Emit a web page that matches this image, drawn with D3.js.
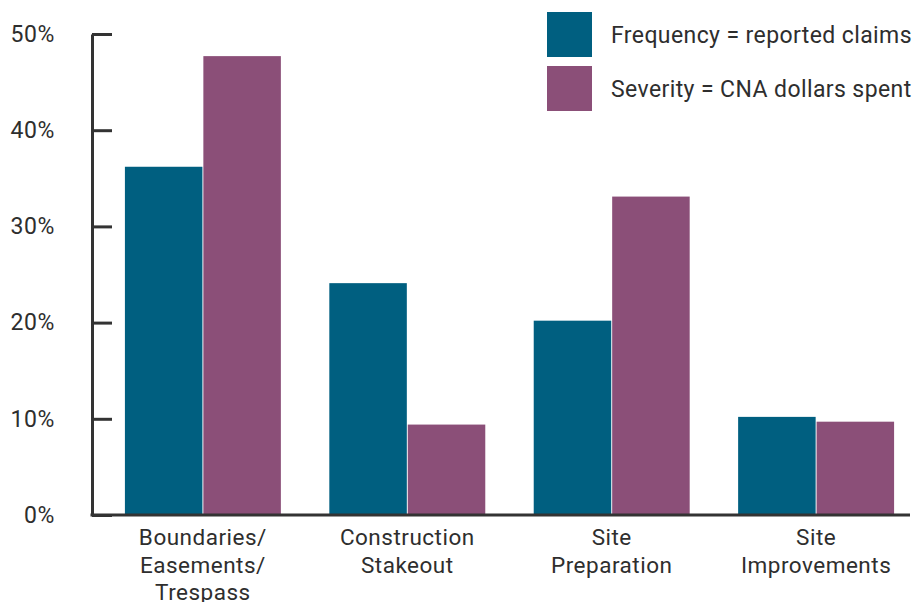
<!DOCTYPE html>
<html>
<head>
<meta charset="utf-8">
<script src="https://cdn.jsdelivr.net/npm/d3@7"></script>
<style>
  body { margin: 0; background: #fff; }
  svg { display: block; font-family: Roboto, "DejaVu Sans", sans-serif; }
  text { fill: #2e2e2e; }
</style>
</head>
<body>
<svg></svg>
<script>
let width = 915;
let height = 602;

// data
let categories = ['Boundaries', 'Construction', 'SitePrep', 'SiteImp'];
let categoryLines = [
  ['Boundaries/', 'Easements/', 'Trespass'],
  ['Construction', 'Stakeout'],
  ['Site', 'Preparation'],
  ['Site', 'Improvements']
];
let frequency = [0.362, 0.241, 0.202, 0.102];
let severity = [0.477, 0.094, 0.331, 0.097];
let seriesNames = ['Frequency = reported claims', 'Severity = CNA dollars spent'];
let yTicks = [0, 0.1, 0.2, 0.3, 0.4, 0.5];

let colors = ['#005f80', '#8b4f78'];

let svg = d3.select('svg')
            .attr('width', width)
            .attr('height', height);

let x0 = 92, yBase = 515, yTop = 34;

let x = d3.scaleBand()
          .domain(categories)
          .range([x0, 927])
          .paddingInner(0.237)
          .paddingOuter(0.161);

let xSub = d3.scaleBand()
             .domain([0, 1])
             .range([0, x.bandwidth()])
             .paddingInner(0.012);

let y = d3.scaleLinear()
          .domain([0, 0.5])
          .range([yBase, yTop]);

// bars
let rows = categories.map((c, i) => ({cat: c, vals: [frequency[i], severity[i]]}));

let groups = svg.append('g')
  .selectAll('g')
  .data(rows)
  .enter()
  .append('g')
  .attr('transform', d => 'translate(' + x(d.cat) + ',0)');

groups.selectAll('rect')
  .data(d => d.vals.map((v, k) => ({k: k, v: v})))
  .enter()
  .append('rect')
  .attr('x', d => xSub(d.k))
  .attr('y', d => y(d.v))
  .attr('width', xSub.bandwidth())
  .attr('height', d => yBase - y(d.v))
  .attr('fill', d => colors[d.k]);

// y axis, ticks pointing inward
let yAxis = d3.axisLeft(y)
              .tickValues(yTicks)
              .tickFormat(d3.format('.0%'))
              .tickSizeInner(-20)
              .tickSizeOuter(0)
              .tickPadding(37);

let gy = svg.append('g')
  .attr('transform', 'translate(' + x0 + ',0)')
  .call(yAxis);
gy.selectAll('path, line').attr('stroke', '#333').attr('stroke-width', 3);
gy.selectAll('text')
  .style('font-size', '23px')
  .style('font-family', 'Roboto, sans-serif')
  .style('letter-spacing', '0.6px')
  .attr('fill', '#2e2e2e');

// x baseline
svg.append('line')
  .attr('x1', x0 - 1.5)
  .attr('x2', 910)
  .attr('y1', yBase)
  .attr('y2', yBase)
  .attr('stroke', '#333')
  .attr('stroke-width', 3);

// category labels
let labels = svg.append('g')
  .selectAll('text')
  .data(categories)
  .enter()
  .append('text')
  .attr('text-anchor', 'middle')
  .style('font-size', '22.5px')
  .style('letter-spacing', '0.5px')
  .attr('x', d => x(d) + x.bandwidth() / 2)
  .attr('y', 545);

labels.selectAll('tspan')
  .data((d, i) => categoryLines[i])
  .enter()
  .append('tspan')
  .attr('x', function() { return this.parentNode.getAttribute('x'); })
  .attr('dy', (d, i) => i === 0 ? 0 : 27.5)
  .text(d => d);

// legend
let legend = svg.append('g')
  .selectAll('g')
  .data(seriesNames)
  .enter()
  .append('g')
  .attr('transform', (d, i) => 'translate(547,' + (12 + i * 54) + ')');

legend.append('rect')
  .attr('width', 45)
  .attr('height', 45)
  .attr('fill', (d, i) => colors[i]);

legend.append('text')
  .attr('x', 64)
  .attr('y', 30.5)
  .style('font-size', '23px')
  .style('letter-spacing', '0.4px')
  .text(d => d);
</script>
</body>
</html>
